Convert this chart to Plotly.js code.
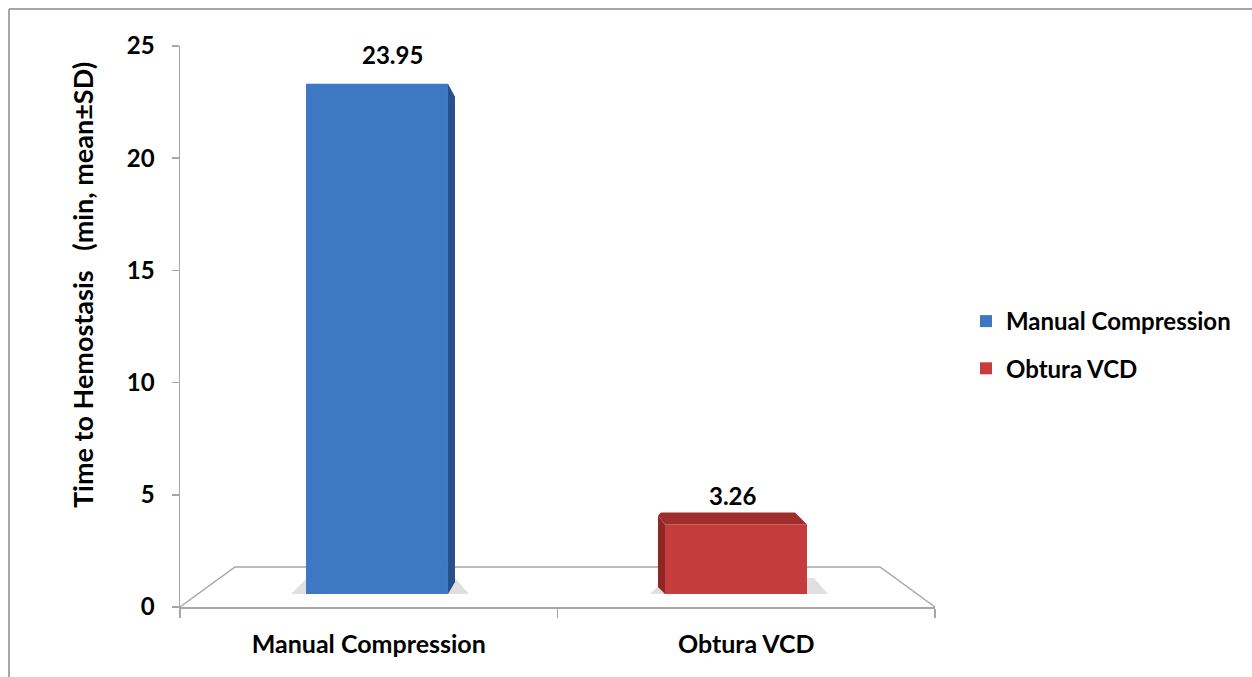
<!DOCTYPE html>
<html>
<head>
<meta charset="utf-8">
<script src="https://cdn.plot.ly/plotly-3.0.1.min.js"></script>
<style>html,body{margin:0;padding:0;background:#fff;}#chart{width:1252px;height:677px;}</style>
</head>
<body>
<div id="chart"></div>
<script>
// ---- data ----
const CATEGORIES = ['Manual Compression', 'Obtura VCD'];
const VALUES = [23.95, 3.26];
const VALUE_LABELS = ['23.95', '3.26'];
const Y_TICKS = [0, 5, 10, 15, 20, 25];
const Y_TITLE = 'Time to Hemostasis\u00a0\u00a0\u00a0(min, mean\u00b1SD)';

// ---- style ----
const FACE_COLORS = ['#3f78c2', '#c43c3c'];
const SIDE_COLORS = ['#28518b', '#8f2626'];
const TOP_COLORS = ['#2f5f9e', '#a02d2d'];
const AXIS_COLOR = '#a6a6a6';
const FAMILY = 'Lato, "Open Sans", sans-serif';
const TEXT_FONT = {family: FAMILY, size: 25, color: '#000', weight: 'bold'};
const LEGEND_FONT = {family: FAMILY, size: 24, color: '#000', weight: 'bold'};
const NUM_FONT = {family: FAMILY, size: 24, color: '#000', weight: 'bold'};
const TITLE_FONT = {family: FAMILY, size: 27, color: '#000', weight: 'bold'};
const LABEL_XSHIFT = [15, -3];

const W = 1252, H = 677;
const M = {l: 180, r: 317, t: 46, b: 70};
const PW = W - M.l - M.r, PH = H - M.t - M.b;
const px2x = p => (p - M.l) / PW;          // pixel -> paper x
const py2y = p => (H - M.b - p) / PH;      // pixel -> paper y
const BAR_BOTTOM_PX = 594;
const PX_PER_UNIT = 21.3;
const y2Domain = [py2y(BAR_BOTTOM_PX), 1];
const y2Max = (BAR_BOTTOM_PX - M.t) / PX_PER_UNIT;
const x2Domain = [px2x(197.5), px2x(915.5)];
const u = p => p / PX_PER_UNIT;            // pixel height -> y2 units

const traces = CATEGORIES.map((c, i) => ({
  type: 'bar',
  x: [c],
  y: [VALUES[i]],
  name: c,
  xaxis: 'x2',
  yaxis: 'y2',
  width: 0.3955,
  marker: {color: FACE_COLORS[i], line: {width: 0}},
  legendgroup: 'g' + i,
  hoverinfo: 'none'
}));
// empty helper trace so that the visible value axis / category axis get drawn
traces.push({type: 'scatter', x: [], y: [], xaxis: 'x', yaxis: 'y', showlegend: false, hoverinfo: 'skip'});

const shapes = [];
// outer frame (top and left edges visible)
shapes.push({type: 'line', xref: 'paper', yref: 'paper', x0: px2x(9), x1: px2x(1300), y0: py2y(9), y1: py2y(9), line: {color: AXIS_COLOR, width: 2}});
shapes.push({type: 'line', xref: 'paper', yref: 'paper', x0: px2x(9), x1: px2x(9), y0: py2y(9), y1: py2y(700), line: {color: AXIS_COLOR, width: 2}});
// 3D floor
const floorPath = 'M ' + px2x(180) + ',' + py2y(607) + ' L ' + px2x(235) + ',' + py2y(567) +
  ' L ' + px2x(880) + ',' + py2y(567) + ' L ' + px2x(935) + ',' + py2y(607);
shapes.push({type: 'path', xref: 'paper', yref: 'paper', path: floorPath, line: {color: AXIS_COLOR, width: 1.5}, layer: 'below'});
// floor shadows
CATEGORIES.forEach((c, i) => {
  shapes.push({type: 'path', xref: 'x2', yref: 'y2', xsizemode: 'pixel', xanchor: c,
    path: 'M -86,0 L 92,0 L 78,' + u(16) + ' L -70,' + u(16) + ' Z',
    fillcolor: 'rgba(0,0,0,0.12)', line: {width: 0}, layer: 'below'});
});
// blue bar: right side face
shapes.push({type: 'path', xref: 'x2', yref: 'y2', xsizemode: 'pixel', xanchor: CATEGORIES[0],
  path: 'M 71,' + VALUES[0] + ' L 78,' + (VALUES[0] - u(13)) + ' L 78,' + u(12) + ' L 71,0 Z',
  fillcolor: SIDE_COLORS[0], line: {width: 0}});
// red bar: left side face and top face
shapes.push({type: 'path', xref: 'x2', yref: 'y2', xsizemode: 'pixel', xanchor: CATEGORIES[1],
  path: 'M -71,0 L -71,' + VALUES[1] + ' L -78,' + (VALUES[1] + u(9)) + ' L -78,' + u(7) + ' Z',
  fillcolor: SIDE_COLORS[1], line: {width: 0}});
shapes.push({type: 'path', xref: 'x2', yref: 'y2', xsizemode: 'pixel', xanchor: CATEGORIES[1],
  path: 'M -71,' + VALUES[1] + ' L 71,' + VALUES[1] + ' L 59,' + (VALUES[1] + u(12)) + ' L -75,' + (VALUES[1] + u(12)) + ' L -78,' + (VALUES[1] + u(9)) + ' Z',
  fillcolor: TOP_COLORS[1], line: {width: 0}});

const annotations = CATEGORIES.map((c, i) => ({
  xref: 'x2', yref: 'y2', x: c, y: VALUES[i], text: VALUE_LABELS[i],
  showarrow: false, yanchor: 'bottom', yshift: 13, xshift: LABEL_XSHIFT[i],
  font: NUM_FONT
}));
annotations.push({
  xref: 'paper', yref: 'paper', x: px2x(82), y: py2y(285), text: Y_TITLE,
  textangle: -90, showarrow: false, xanchor: 'center', yanchor: 'middle',
  font: TITLE_FONT
});

const layout = {
  width: W, height: H,
  margin: M,
  paper_bgcolor: '#fff', plot_bgcolor: 'rgba(0,0,0,0)',
  font: TEXT_FONT,
  barmode: 'overlay',
  showlegend: true,
  legend: {x: px2x(966), y: py2y(299), xanchor: 'left', yanchor: 'top',
    font: LEGEND_FONT, tracegroupgap: 13, bgcolor: 'rgba(0,0,0,0)'},
  xaxis: {type: 'linear', range: [-0.5, 1.5], anchor: 'y',
    tickmode: 'array', tickvals: CATEGORIES.map((c, i) => i), ticktext: CATEGORIES,
    ticks: '', showline: true, linecolor: AXIS_COLOR, linewidth: 1.5,
    showgrid: false, zeroline: false, tickfont: TEXT_FONT, ticklabelstandoff: 14,
    minor: {tickmode: 'array', tickvals: [-0.5, 0.5, 1.5], ticks: 'outside', ticklen: 9,
      tickcolor: AXIS_COLOR, tickwidth: 1.5, showgrid: false},
    fixedrange: true},
  yaxis: {range: [0, 25], tickmode: 'array', tickvals: Y_TICKS, anchor: 'x',
    ticks: 'outside', ticklen: 7, tickcolor: AXIS_COLOR, tickwidth: 1.5,
    showline: true, linecolor: AXIS_COLOR, linewidth: 1.5,
    showgrid: false, zeroline: false, tickfont: NUM_FONT, ticklabelstandoff: 12,
    fixedrange: true},
  xaxis2: {type: 'category', categoryorder: 'array', categoryarray: CATEGORIES,
    range: [-0.5, 1.5], domain: x2Domain, anchor: 'y2', visible: false, fixedrange: true},
  yaxis2: {range: [0, y2Max], domain: y2Domain, anchor: 'x2', visible: false, fixedrange: true},
  shapes: shapes,
  annotations: annotations
};

Plotly.newPlot('chart', traces, layout, {staticPlot: true, displayModeBar: false});
</script>
</body>
</html>
